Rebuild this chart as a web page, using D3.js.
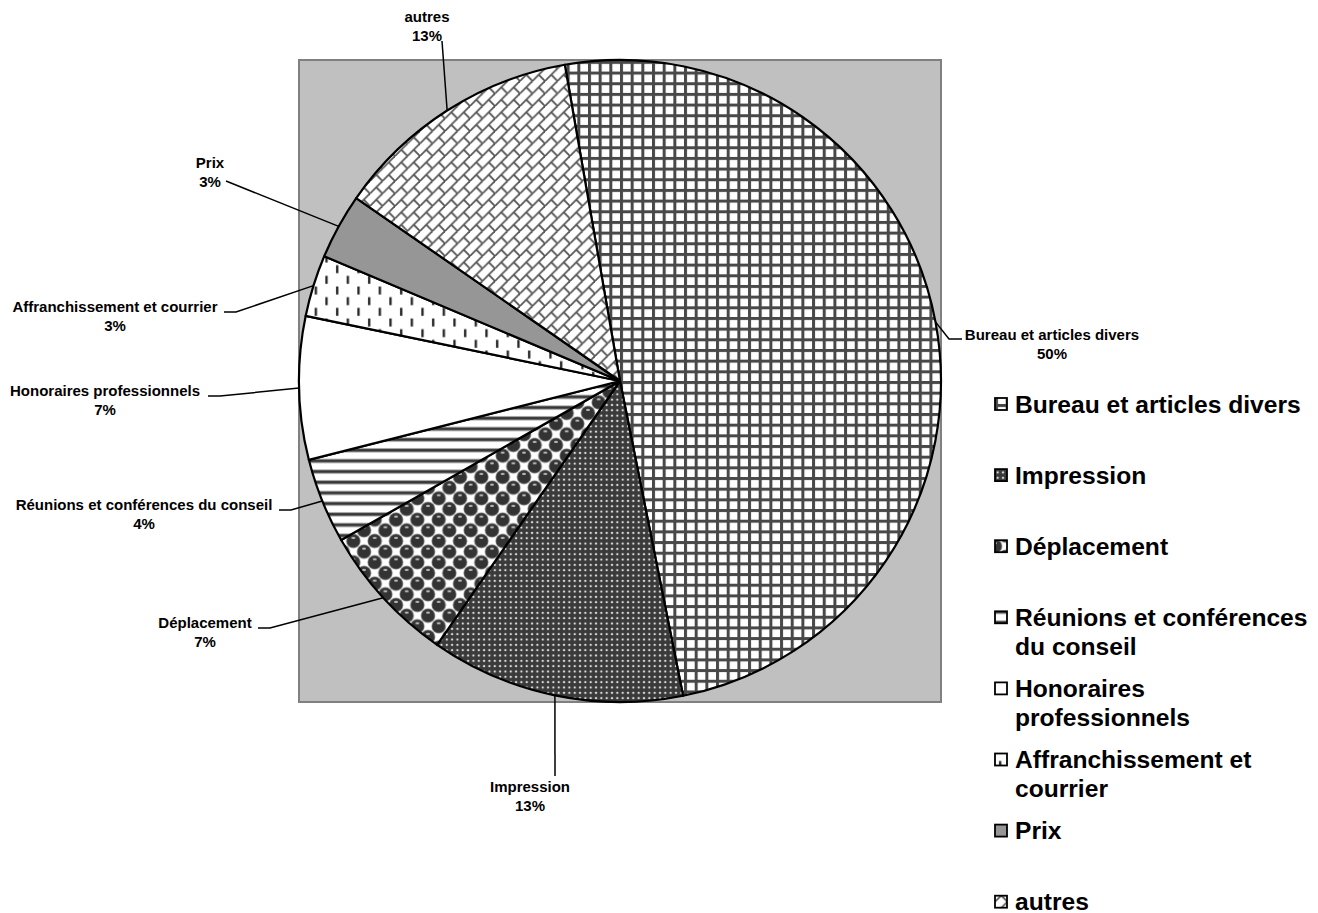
<!DOCTYPE html>
<html>
<head>
<meta charset="utf-8">
<script src="https://cdn.jsdelivr.net/npm/d3@7"></script>
<style>
  body { margin: 0; background: #fff; }
  text { font-family: "Liberation Sans", Arial, sans-serif; font-weight: bold; fill: #000; }
</style>
</head>
<body>
<div id="chart"></div>
<script>
// Data
const categories = [
  "Bureau et articles divers",
  "Impression",
  "Déplacement",
  "Réunions et conférences du conseil",
  "Honoraires professionnels",
  "Affranchissement et courrier",
  "Prix",
  "autres"
];
const values = [49.6, 12.8, 7.1, 4.3, 7.2, 3.1, 3.3, 12.6];
const patternIds = ["grid", "dots", "spheres", "hlines", "plain", "vdash", "solid", "brick"];

// Layout
const width = 1318, height = 913;
const cx = 620, cy = 381, radius = 321;
const startAngle = -9.9 * Math.PI / 180;

// label position: text x, first baseline, attach x, attach y, elbow x
const labelPos = {
  "Bureau et articles divers": [1052, 340, 962, 339, 949],
  "Impression": [530, 792, 555, 776, null],
  "Déplacement": [205, 628, 258, 628, 270],
  "Réunions et conférences du conseil": [144, 510, 279, 510, 291],
  "Honoraires professionnels": [105, 396, 208, 396, 220],
  "Affranchissement et courrier": [115, 312, 224, 312, 236],
  "Prix": [210, 168, 226, 181, null],
  "autres": [427, 22, 442, 41, null]
};

const data = categories.map((c, i) => ({ name: c, value: values[i], pattern: patternIds[i] }));
const total = d3.sum(values);

const svg = d3.select("#chart").append("svg")
  .attr("width", width)
  .attr("height", height);

// Fill patterns (imitating the old office hatch fills)
const defs = svg.append("defs");
function pattern(id, w, h) {
  return defs.append("pattern")
    .attr("id", id)
    .attr("patternUnits", "userSpaceOnUse")
    .attr("width", w)
    .attr("height", h);
}

let p = pattern("grid", 10.67, 10.67);
p.append("rect").attr("width", 10.67).attr("height", 10.67).attr("fill", "#fff");
p.append("rect").attr("width", 10.67).attr("height", 3).attr("fill", "#484848");
p.append("rect").attr("width", 3).attr("height", 10.67).attr("fill", "#484848");

p = pattern("dots", 5.33, 5.33);
p.append("rect").attr("width", 5.33).attr("height", 5.33).attr("fill", "#3a3a3a");
p.append("circle").attr("cx", 2.67).attr("cy", 2.67).attr("r", 1.15).attr("fill", "#dcdcdc");

p = pattern("spheres", 21.33, 21.33);
p.append("rect").attr("width", 21.33).attr("height", 21.33).attr("fill", "#fff");
[[0, 0], [21.33, 0], [0, 21.33], [21.33, 21.33], [10.67, 10.67]].forEach(([x, y]) => {
  p.append("circle").attr("cx", x).attr("cy", y).attr("r", 7.3).attr("fill", "#888");
  p.append("circle").attr("cx", x).attr("cy", y).attr("r", 6.6).attr("fill", "#333");
  p.append("ellipse").attr("cx", x).attr("cy", y - 3).attr("rx", 2).attr("ry", 1.1)
    .attr("fill", "#bbb");
});

p = pattern("hlines", 10.67, 10.67);
p.append("rect").attr("width", 10.67).attr("height", 10.67).attr("fill", "#fff");
p.append("rect").attr("y", 3).attr("width", 10.67).attr("height", 4.5).attr("fill", "#aaa");
p.append("rect").attr("y", 4).attr("width", 10.67).attr("height", 2.5).attr("fill", "#333");

p = pattern("plain", 10, 10);
p.append("rect").attr("width", 10).attr("height", 10).attr("fill", "#fff");

p = pattern("vdash", 21.33, 21.33);
p.append("rect").attr("width", 21.33).attr("height", 21.33).attr("fill", "#fff");
p.append("rect").attr("x", 4).attr("y", 1.5).attr("width", 2.3).attr("height", 8).attr("fill", "#222");
p.append("rect").attr("x", 14.67).attr("y", 12.17).attr("width", 2.3).attr("height", 8).attr("fill", "#222");

p = pattern("solid", 10, 10);
p.append("rect").attr("width", 10).attr("height", 10).attr("fill", "#969696");

const T = 12.5;
p = pattern("brick", T, T);
p.append("rect").attr("width", T).attr("height", T).attr("fill", "#fff");
p.append("line").attr("x1", -1).attr("y1", T + 1).attr("x2", T + 1).attr("y2", -1)
  .attr("stroke", "#555").attr("stroke-width", 1.8);
p.append("line").attr("x1", T / 2).attr("y1", T / 2).attr("x2", T + 1).attr("y2", T + 1)
  .attr("stroke", "#555").attr("stroke-width", 1.8);
p.append("line").attr("x1", -1).attr("y1", -1).attr("x2", 0.5).attr("y2", 0.5)
  .attr("stroke", "#555").attr("stroke-width", 1.8);

// Plot area
svg.append("rect")
  .attr("x", cx - radius)
  .attr("y", cy - radius)
  .attr("width", radius * 2)
  .attr("height", radius * 2)
  .attr("fill", "#c0c0c0")
  .attr("stroke", "#808080")
  .attr("stroke-width", 2);

const pie = d3.pie()
  .sort(null)
  .value(d => d.value)
  .startAngle(startAngle)
  .endAngle(startAngle + 2 * Math.PI);

const arc = d3.arc().innerRadius(0).outerRadius(radius);
const edge = d3.arc().innerRadius(radius).outerRadius(radius);

const arcs = pie(data);

const g = svg.append("g").attr("transform", `translate(${cx},${cy})`);

g.selectAll(".slice")
  .data(arcs)
  .join("path")
  .attr("class", "slice")
  .attr("d", arc)
  .attr("fill", d => `url(#${d.data.pattern})`)
  .attr("stroke", "#000")
  .attr("stroke-width", 2.2)
  .attr("stroke-linejoin", "round");

// Leader lines
svg.selectAll(".leader")
  .data(arcs)
  .join("polyline")
  .attr("class", "leader")
  .attr("fill", "none")
  .attr("stroke", "#000")
  .attr("stroke-width", 1.5)
  .attr("points", d => {
    const [tx, ty, ax, ay, ex] = labelPos[d.data.name];
    const [px, py] = edge.centroid(d);
    const pts = [[cx + px, cy + py]];
    if (ex !== null) pts.push([ex, ay]);
    pts.push([ax, ay]);
    return pts.map(q => q.join(",")).join(" ");
  });

// Slice labels
const labels = svg.selectAll(".slice-label")
  .data(arcs)
  .join("text")
  .attr("class", "slice-label")
  .attr("text-anchor", "middle")
  .style("font-size", "15px");

labels.append("tspan")
  .attr("x", d => labelPos[d.data.name][0])
  .attr("y", d => labelPos[d.data.name][1])
  .text(d => d.data.name);

labels.append("tspan")
  .attr("x", d => labelPos[d.data.name][0])
  .attr("y", d => labelPos[d.data.name][1] + 19)
  .text(d => `${Math.round(d.data.value / total * 100)}%`);

// Legend
const legendX = 995, legendTop = 404, legendStep = 71.1, wrapWidth = 298;

const legend = svg.selectAll(".legend-item")
  .data(data)
  .join("g")
  .attr("class", "legend-item")
  .attr("transform", (d, i) => `translate(${legendX},${legendTop + i * legendStep})`);

legend.append("rect")
  .attr("x", 0)
  .attr("y", -6)
  .attr("width", 12)
  .attr("height", 12)
  .attr("fill", d => `url(#${d.pattern})`)
  .attr("stroke", "#000")
  .attr("stroke-width", 1.8);

legend.append("text")
  .style("font-size", "24.6px")
  .each(function(d) {
    const text = d3.select(this);
    const words = d.name.split(" ");
    let line = [];
    let lineNo = 0;
    let tspan = text.append("tspan").attr("x", 20).attr("y", 8.5);
    words.forEach(w => {
      line.push(w);
      tspan.text(line.join(" "));
      if (tspan.node().getComputedTextLength() > wrapWidth && line.length > 1) {
        line.pop();
        tspan.text(line.join(" "));
        line = [w];
        lineNo++;
        tspan = text.append("tspan").attr("x", 20).attr("y", 8.5 + lineNo * 29).text(w);
      }
    });
  });
</script>
</body>
</html>
